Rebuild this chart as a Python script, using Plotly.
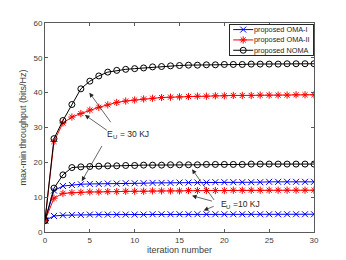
import plotly.graph_objects as go

iters = list(range(31))

oma1_30 = [3.3, 11.9, 13.2, 13.5, 13.7, 13.8, 13.8, 13.9, 13.9, 14.0, 14.0, 14.0, 14.1, 14.1, 14.1, 14.2,
           14.2, 14.2, 14.2, 14.3, 14.3, 14.3, 14.3, 14.3, 14.3, 14.4, 14.4, 14.4, 14.4, 14.4, 14.4]
oma1_10 = [3.3, 4.6, 4.8, 4.9, 4.9, 5.0, 5.0, 5.0, 5.0, 5.0, 5.0, 5.0, 5.1, 5.1, 5.1, 5.1,
           5.1, 5.1, 5.1, 5.1, 5.1, 5.1, 5.1, 5.1, 5.1, 5.1, 5.1, 5.1, 5.1, 5.1, 5.1]
oma2_30 = [3.3, 26.0, 31.3, 33.0, 34.0, 35.0, 35.8, 36.5, 37.2, 37.6, 37.9, 38.2, 38.4, 38.6, 38.7, 38.8,
           38.9, 39.0, 39.0, 39.1, 39.1, 39.2, 39.2, 39.2, 39.3, 39.3, 39.3, 39.3, 39.4, 39.4, 39.4]
oma2_10 = [3.3, 9.7, 11.1, 11.3, 11.4, 11.5, 11.5, 11.6, 11.6, 11.7, 11.7, 11.7, 11.8, 11.8, 11.8, 11.8,
           11.9, 11.9, 11.9, 11.9, 11.9, 12.0, 12.0, 12.0, 12.0, 12.0, 12.0, 12.0, 12.0, 12.0, 12.0]
noma_30 = [3.3, 26.8, 32.0, 36.6, 41.1, 43.3, 44.8, 45.9, 46.4, 46.7, 46.9, 47.1, 47.4, 47.5, 47.7, 47.8,
           47.9, 47.9, 48.0, 48.0, 48.1, 48.1, 48.1, 48.2, 48.2, 48.2, 48.2, 48.3, 48.3, 48.3, 48.3]
noma_10 = [3.3, 12.6, 16.4, 18.5, 18.7, 18.8, 18.9, 19.0, 19.0, 19.1, 19.1, 19.2, 19.2, 19.2, 19.3, 19.3,
           19.3, 19.3, 19.4, 19.4, 19.4, 19.4, 19.4, 19.5, 19.5, 19.5, 19.5, 19.5, 19.5, 19.5, 19.5]

series_names = ["proposed OMA-I", "proposed OMA-II", "proposed NOMA"]
series_colors = ["#0000ff", "#ff0000", "#000000"]
series_symbols = ["x-thin-open", "asterisk-open", "circle-open"]
series_curves = [[oma1_30, oma1_10], [oma2_30, oma2_10], [noma_30, noma_10]]

x_ticks = [0, 5, 10, 15, 20, 25, 30]
y_ticks = [0, 10, 20, 30, 40, 50, 60]

# energy labels: (left x, y, main letter, subscript, rest, gap before rest)
labels = [(6.7, 28.2, "E", "U", "= 30 KJ", 12.5), (19.35, 8.0, "E", "U", "=10 KJ", 12.5)]
# annotation arrows: (head x, head y, tail x, tail y)
arrows_30 = [(4.95, 40.0, 7.45, 31.1), (4.45, 33.6, 7.07, 28.9), (4.1, 14.6, 6.44, 25.1)]
arrows_10 = [(16.4, 18.0, 18.98, 8.76), (16.4, 10.4, 18.79, 8.76), (17.7, 6.2, 18.98, 7.54)]

txt = "#262626"
FONT = "Liberation Sans"

fig = go.Figure()
for name, color, sym, curves in zip(series_names, series_colors, series_symbols, series_curves):
    for ys in curves:
        fig.add_trace(go.Scatter(
            x=iters, y=ys, mode="lines+markers", name=name, showlegend=False,
            line=dict(color=color, width=1),
            marker=dict(symbol=sym, size=6, color=color, line=dict(color=color, width=1)),
        ))

# compact legend (MATLAB style) drawn in an overlay box axis
leg_rows = [26, 15.5, 5]
for name, color, sym, row in zip(series_names, series_colors, series_symbols, leg_rows):
    fig.add_trace(go.Scatter(
        x=[3, 23], y=[row, row], mode="lines", xaxis="x2", yaxis="y2", showlegend=False,
        hoverinfo="skip", line=dict(color=color, width=1)))
    fig.add_trace(go.Scatter(
        x=[13], y=[row], mode="markers", xaxis="x2", yaxis="y2", showlegend=False,
        hoverinfo="skip",
        marker=dict(symbol=sym, size=6, color=color, line=dict(color=color, width=1))))

anns = []
for hx, hy, tx, ty in arrows_30 + arrows_10:
    anns.append(dict(x=hx, y=hy, ax=tx, ay=ty, xref="x", yref="y", axref="x", ayref="y",
                     showarrow=True, arrowhead=2, arrowsize=1.3, arrowwidth=0.7,
                     arrowcolor=txt, text=""))
for lx, ly, main, sub, rest, gap in labels:
    anns.append(dict(x=lx, y=ly, xref="x", yref="y", text=main, showarrow=False,
                     xanchor="left", yanchor="middle", font=dict(size=8.5, color=txt, family=FONT)))
    anns.append(dict(x=lx, y=ly, xref="x", yref="y", text=sub, showarrow=False, xshift=5.8,
                     yshift=-2.8, xanchor="left", yanchor="middle",
                     font=dict(size=6, color=txt, family=FONT)))
    anns.append(dict(x=lx, y=ly, xref="x", yref="y", text=rest, showarrow=False, xshift=gap,
                     xanchor="left", yanchor="middle", font=dict(size=8.5, color=txt, family=FONT)))
for name, row in zip(series_names, leg_rows):
    anns.append(dict(x=22, y=row, xref="x2", yref="y2", text=name, showarrow=False,
                     xanchor="left", yanchor="middle",
                     font=dict(size=7.3, color=txt, family=FONT)))

axis_common = dict(showgrid=False, zeroline=False, showline=True, linecolor="#5a5a5a", linewidth=1,
                   mirror="ticks", ticks="inside", ticklen=3, tickcolor="#5a5a5a",
                   tickfont=dict(size=8, color="#404040", family=FONT))

# note: the page body has an 8px default margin, compensated in the figure margins
fig.update_layout(
    width=346, height=260,
    margin=dict(l=37, r=40, t=11, b=36),
    paper_bgcolor="white", plot_bgcolor="white",
    font=dict(family=FONT, size=8.5, color=txt),
    xaxis=dict(range=[0, 30], tickvals=x_ticks,
               title=dict(text="iteration number", font=dict(size=9, color="#404040"), standoff=3),
               **axis_common),
    yaxis=dict(range=[0, 60], tickvals=y_ticks,
               title=dict(text="max-min throughput (bits/Hz)", font=dict(size=9, color="#404040"),
                          standoff=5),
               **axis_common),
    xaxis2=dict(domain=[0.6885, 0.9974], range=[0, 83], anchor="y2", showgrid=False, zeroline=False,
                showticklabels=False, ticks="", showline=True, mirror=True, linecolor="#262626",
                linewidth=0.7, fixedrange=True),
    yaxis2=dict(domain=[0.846, 0.992], range=[0, 31], anchor="x2", showgrid=False, zeroline=False,
                showticklabels=False, ticks="", showline=True, mirror=True, linecolor="#262626",
                linewidth=0.7, fixedrange=True),
    annotations=anns,
    showlegend=False,
)

fig.write_html("out.html")
